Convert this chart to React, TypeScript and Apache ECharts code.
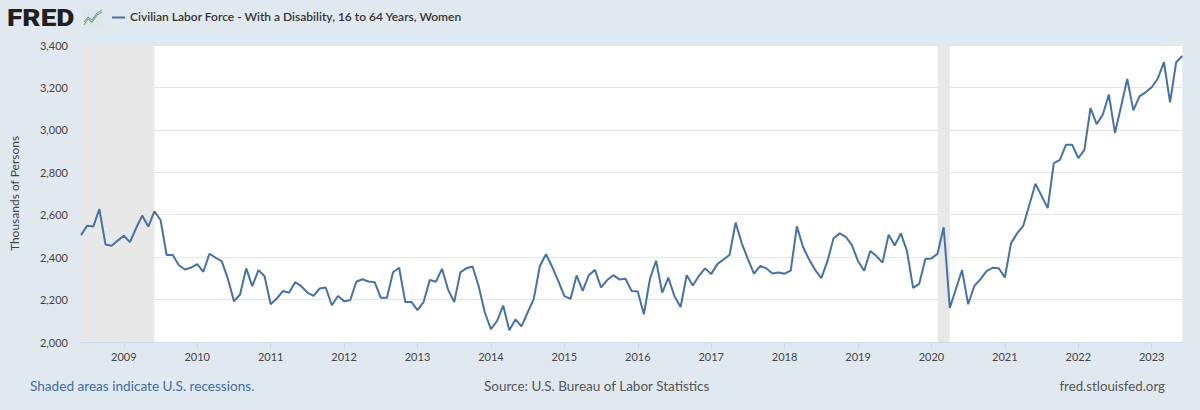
import React, { useEffect, useRef } from "react";
import * as echarts from "echarts";

// Monthly values, thousands of persons (2008-06 .. 2023-06)
const values2008_2011 = [
  2504, 2548, 2544, 2626, 2460, 2454, 2478,
  2501, 2471, 2536, 2596, 2544, 2616, 2575, 2410, 2410, 2362, 2342, 2351,
  2367, 2331, 2416, 2397, 2381, 2299, 2192, 2224, 2347, 2263, 2339, 2310,
  2178, 2205, 2240, 2232, 2282, 2263, 2233, 2217, 2252, 2257, 2173, 2217,
];
const values2012_2015 = [
  2192, 2197, 2284, 2296, 2285, 2282, 2208, 2208, 2329, 2350, 2189, 2189,
  2150, 2189, 2292, 2284, 2345, 2247, 2188, 2328, 2348, 2356, 2263, 2139,
  2061, 2099, 2172, 2055, 2106, 2074, 2139, 2203, 2358, 2414, 2355, 2288,
  2216, 2203, 2314, 2241, 2315, 2340, 2257, 2292, 2315, 2295, 2298, 2240,
];
const values2016_2019 = [
  2238, 2131, 2299, 2383, 2233, 2303, 2216, 2165, 2315, 2266, 2312, 2347,
  2320, 2367, 2389, 2410, 2563, 2465, 2391, 2322, 2358, 2348, 2323, 2328,
  2322, 2336, 2545, 2449, 2389, 2339, 2301, 2381, 2489, 2512, 2496, 2457,
  2381, 2336, 2429, 2405, 2374, 2506, 2455, 2512, 2429, 2255, 2274, 2391,
];
const values2020_2023 = [
  2394, 2416, 2541, 2161, 2250, 2339, 2178, 2264, 2295, 2334, 2350, 2348,
  2304, 2465, 2512, 2547, 2646, 2746, 2689, 2631, 2843, 2859, 2930, 2930,
  2867, 2906, 3103, 3027, 3071, 3166, 2985, 3111, 3240, 3092, 3158, 3177,
  3201, 3242, 3319, 3130, 3319, 3348,
];
const seriesValues = [...values2008_2011, ...values2012_2015, ...values2016_2019, ...values2020_2023];

const startYear = 2008;
const startMonth = 6;
const months: string[] = seriesValues.map((_, i) => {
  const m = startMonth - 1 + i;
  const y = startYear + Math.floor(m / 12);
  const mm = (m % 12) + 1;
  return `${y}-${mm < 10 ? "0" + mm : mm}`;
});

const recessions: [string, string][] = [
  ["2008-06", "2009-06"],
  ["2020-02", "2020-04"],
];

const yTicks = { min: 2000, max: 3400, interval: 200 };

const TITLE = "Civilian Labor Force - With a Disability, 16 to 64 Years, Women";
const FONT = "'Source Sans Pro', Lato, 'Noto Sans', sans-serif";

export default function App() {
  const ref = useRef<HTMLDivElement>(null);
  useEffect(() => {
    document.body.style.margin = "0";
    if (!ref.current) return;
    const chart = echarts.init(ref.current, null, { renderer: "svg" });
    const isJan = (_: number, v: string) => v.endsWith("-01");
    chart.setOption({
      animation: false,
      backgroundColor: "#e1e9f0",
      textStyle: { fontFamily: FONT },
      grid: {
        left: 77.7,
        right: 17.7,
        top: 45,
        bottom: 68,
        show: true,
        backgroundColor: "#ffffff",
        borderWidth: 0,
      },
      xAxis: {
        type: "category",
        data: months,
        boundaryGap: false,
        axisLine: { show: true, lineStyle: { color: "#cfd9e3", width: 1 } },
        axisTick: { show: true, interval: isJan, length: 6, lineStyle: { color: "#cfd9e3" } },
        axisLabel: {
          interval: isJan,
          formatter: (v: string) => v.slice(0, 4),
          color: "#444",
          fontSize: 11,
          margin: 9,
          fontFamily: FONT,
        },
        splitLine: { show: false },
      },
      yAxis: {
        type: "value",
        min: yTicks.min,
        max: yTicks.max,
        interval: yTicks.interval,
        name: "Thousands of Persons",
        nameLocation: "middle",
        nameGap: 61,
        nameTextStyle: { color: "#444", fontSize: 12, fontFamily: FONT },
        axisLine: { show: false },
        axisTick: { show: false },
        axisLabel: {
          color: "#444",
          fontSize: 11,
          margin: 13,
          fontFamily: FONT,
          formatter: (v: number) => v.toLocaleString("en-US"),
        },
        splitLine: { show: true, lineStyle: { color: "#e6e6e6", width: 1 } },
      },
      series: [
        {
          type: "line",
          data: seriesValues,
          symbol: "none",
          lineStyle: { color: "#4572a7", width: 2 },
          itemStyle: { color: "#4572a7" },
          markArea: {
            silent: true,
            itemStyle: { color: "#e8e8e8" },
            data: recessions.map(([a, b]) => [{ xAxis: a }, { xAxis: b }]),
          },
        },
      ],
      graphic: [
        {
          type: "text",
          x: 7,
          y: 6,
          scaleX: 1.22,
          style: {
            text: "FRED",
            fontSize: 23,
            fontWeight: 900,
            fontFamily: "Roboto, Lato, sans-serif",
            fill: "#231f20",
          },
        },
        {
          type: "rect",
          shape: { x: 83, y: 10, width: 20, height: 17 },
          style: { fill: "#dfe6ea" },
        },
        {
          type: "polyline",
          shape: { points: [[84, 25], [88, 19], [92, 22], [97, 15], [102, 12]] },
          style: { stroke: "#7fb37f", lineWidth: 1.3, fill: "none" },
        },
        {
          type: "polyline",
          shape: { points: [[84, 22], [88, 17], [92, 20], [97, 13], [102, 10]] },
          style: { stroke: "#6f8fb0", lineWidth: 1, fill: "none" },
        },
        {
          type: "line",
          shape: { x1: 112, y1: 17.5, x2: 125, y2: 17.5 },
          style: { stroke: "#4572a7", lineWidth: 2 },
        },
        {
          type: "text",
          left: 130,
          top: 10,
          style: {
            text: TITLE,
            fontSize: 12,
            fontWeight: 600,
            fontFamily: FONT,
            fill: "#333333",
          },
        },
        {
          type: "text",
          left: 30,
          top: 379,
          style: {
            text: "Shaded areas indicate U.S. recessions.",
            fontSize: 13.6,
            fontFamily: FONT,
            fill: "#3f6c9f",
          },
        },
        {
          type: "text",
          left: 484,
          top: 379,
          style: {
            text: "Source: U.S. Bureau of Labor Statistics",
            fontSize: 13.5,
            fontFamily: FONT,
            fill: "#555555",
          },
        },
        {
          type: "text",
          right: 35,
          top: 379,
          style: {
            text: "fred.stlouisfed.org",
            fontSize: 13.3,
            fontFamily: FONT,
            fill: "#555555",
          },
        },
      ],
    });
    return () => chart.dispose();
  }, []);
  return <div ref={ref} style={{ width: 1200, height: 410 }} />;
}
